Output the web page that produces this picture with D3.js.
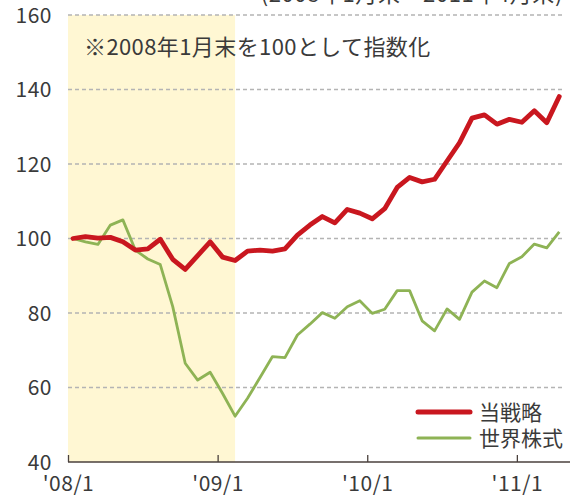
<!DOCTYPE html>
<html>
<head>
<meta charset="utf-8">
<script src="https://cdn.jsdelivr.net/npm/d3@7"></script>
<style>
  html, body { margin: 0; padding: 0; background: #fff; }
  text { font-family: "Noto Sans CJK JP", "Noto Sans", sans-serif; fill: #3a3a3a; }
</style>
</head>
<body>
<div id="chart"></div>
<script>
// month index 0 = end of Jan 2008, 39 = end of Apr 2011
const months = d3.timeMonth.range(new Date(2008, 0, 1), new Date(2011, 4, 1));

// index values (Jan 2008 end = 100)
const strategy = [100, 100.5, 100.1, 100.3, 99.1, 96.9, 97.2, 99.8, 94.4, 91.7,
  95.4, 99.1, 95.0, 94.1, 96.6, 96.9, 96.6, 97.2, 100.9, 103.6,
  105.9, 104.2, 107.8, 106.8, 105.3, 108.0, 113.7, 116.4, 115.2, 115.9,
  120.8, 125.7, 132.3, 133.2, 130.7, 132.0, 131.2, 134.3, 131.1, 138.1];
const world = [100, 99.1, 98.4, 103.6, 105.0, 96.9, 94.5, 93.0, 81.7, 66.5,
  62.0, 64.1, 58.4, 52.3, 57.1, 62.7, 68.3, 68.0, 74.1, 77.0,
  80.1, 78.6, 81.7, 83.3, 79.9, 81.0, 86.0, 86.0, 77.9, 75.2,
  81.1, 78.3, 85.6, 88.6, 86.8, 93.3, 95.1, 98.5, 97.5, 101.8];

const seriesNames = ['当戦略', '世界株式'];
const yTicks = [40, 60, 80, 100, 120, 140, 160];
const xTickLabels = ["'08/1", "'09/1", "'10/1", "'11/1"];
const xTickIndex = [-0.4, 11.6, 23.6, 35.6]; // start of each January on the month-index axis
const shadeEnd = 13; // shaded period ends at Feb 2009
const periodNote = '(2008年1月末～2011年4月末)';
const baseNote = '※2008年1月末を100として指数化';

const width = 575, height = 496;
const colors = { strategy: '#c9171f', world: '#8eb355' };

const svg = d3.select('#chart').append('svg')
  .attr('width', width)
  .attr('height', height);

const x = d3.scaleLinear().domain([-0.4, 39.3]).range([68, 563]);
const y = d3.scaleLinear().domain([40, 160]).range([462, 15]);

// shaded period
svg.append('rect')
  .attr('x', x(-0.4))
  .attr('y', y(160))
  .attr('width', x(shadeEnd) - x(-0.4))
  .attr('height', y(40) - y(160))
  .attr('fill', '#fff7d3');

// gridlines
svg.append('g')
  .selectAll('line')
  .data(yTicks.filter(d => d > 40))
  .join('line')
  .attr('x1', x(-0.4))
  .attr('x2', x(39.3))
  .attr('y1', d => y(d))
  .attr('y2', d => y(d))
  .attr('stroke', '#b4b4b4')
  .attr('stroke-width', 1.3)
  .attr('stroke-dasharray', '4,3');

// y labels
svg.append('g')
  .selectAll('text')
  .data(yTicks)
  .join('text')
  .attr('x', 52)
  .attr('y', d => y(d))
  .attr('dy', '0.36em')
  .attr('text-anchor', 'end')
  .attr('font-size', 21)
  .attr('letter-spacing', 0.5)
  .text(d => d);

// x axis
const xAxis = d3.axisBottom(x)
  .tickValues(xTickIndex)
  .tickSize(-7)
  .tickSizeOuter(0)
  .tickPadding(0)
  .tickFormat((d, i) => xTickLabels[i]);
const gx = svg.append('g')
  .attr('transform', `translate(0,${y(40)})`)
  .call(xAxis);
gx.select('.domain')
  .attr('d', `M${x(-0.4)},0H570`)
  .attr('stroke', '#4a403c')
  .attr('stroke-width', 1.5);
gx.selectAll('.tick line').attr('stroke', '#4a403c').attr('stroke-width', 1.3);
gx.selectAll('.tick text')
  .attr('y', 21)
  .attr('dy', '0.36em')
  .attr('font-size', 21)
  .attr('letter-spacing', 0.5)
  .attr('font-family', null)
  .attr('fill', null);
gx.attr('font-family', null).attr('font-size', null);

// lines
const line = d3.line()
  .x((d, i) => x(i))
  .y(d => y(d))
  .curve(d3.curveLinear);

svg.append('path')
  .datum(world)
  .attr('d', line)
  .attr('fill', 'none')
  .attr('stroke', colors.world)
  .attr('stroke-width', 2.8)
  .attr('stroke-linejoin', 'round');

svg.append('path')
  .datum(strategy)
  .attr('d', line)
  .attr('fill', 'none')
  .attr('stroke', colors.strategy)
  .attr('stroke-width', 4.8)
  .attr('stroke-linejoin', 'round')
  .attr('stroke-linecap', 'round');

// notes
svg.append('text')
  .attr('x', 563)
  .attr('y', 2)
  .attr('text-anchor', 'end')
  .attr('font-size', 22)
  .attr('letter-spacing', 0.6)
  .text(periodNote);

svg.append('text')
  .attr('x', 84)
  .attr('y', 47)
  .attr('dy', '0.36em')
  .attr('font-size', 22)
  .attr('letter-spacing', 0.4)
  .text(baseNote);

// legend
const legend = svg.append('g');
const legendItems = [
  { name: seriesNames[0], color: colors.strategy, w: 5 },
  { name: seriesNames[1], color: colors.world, w: 3 }
];
legendItems.forEach((item, i) => {
  const ly = 412 + i * 26;
  legend.append('line')
    .attr('x1', 418).attr('x2', 470)
    .attr('y1', ly).attr('y2', ly)
    .attr('stroke', item.color)
    .attr('stroke-width', item.w)
    .attr('stroke-linecap', 'round');
  legend.append('text')
    .attr('x', 479)
    .attr('y', ly)
    .attr('dy', '0.36em')
    .attr('font-size', 21)
    .text(item.name);
});
</script>
</body>
</html>
